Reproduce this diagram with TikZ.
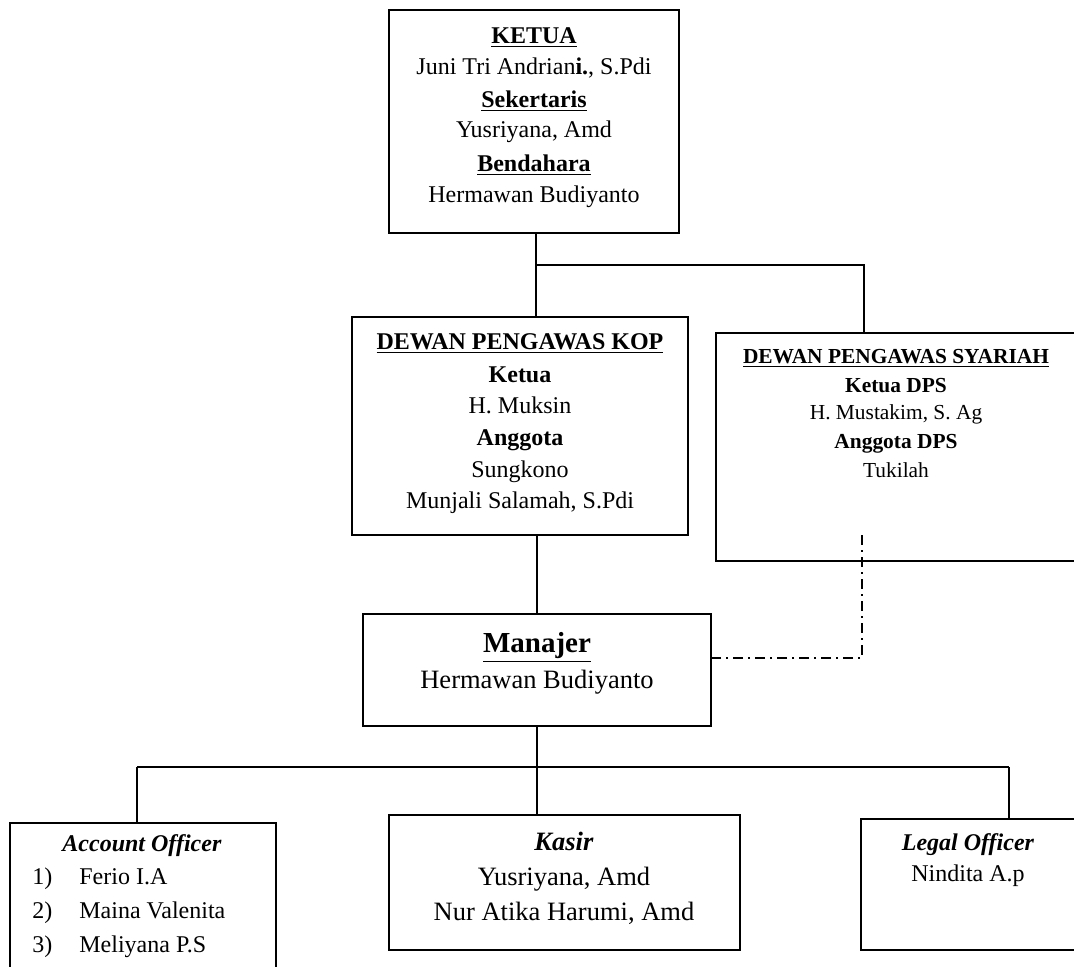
\documentclass[tikz,border=0pt]{standalone}
\usepackage{fontspec}
\setmainfont{Liberation Serif}
\usetikzlibrary{fit}
\begin{document}
\begin{tikzpicture}[x=0.5pt,y=-0.5pt,
  box/.style={draw=black,line width=1pt,inner sep=0pt},
  lbl/.style={anchor=base,inner sep=0pt},
  lblw/.style={anchor=base west,inner sep=0pt},
  ftw/.style={font=\fontsize{12}{14}\selectfont},
  ftm/.style={font=\fontsize{13.25}{15}\selectfont},
  ftb/.style={font=\fontsize{14.5}{17}\selectfont},
  fts/.style={font=\fontsize{10.7}{13}\selectfont},
  conn/.style={draw=black,line width=0.9pt},
  dashdotline/.style={draw=black,line width=0.75pt,dash pattern=on 5pt off 2.5pt on 1pt off 2.5pt}]
\clip (0,0) rectangle (1074,966);
\fill[white] (0,0) rectangle (1074,966);

% boxes
\node[box, fit={(389,10) (679,233)}] (ketua) {};
\node[box, fit={(352,317) (688,535)}] (dpk) {};
\node[box, fit={(716,333) (1076,561)}] (dps) {};
\node[box, fit={(363,614) (711,726)}] (mgr) {};
\node[box, fit={(10,823) (276,980)}] (ao) {};
\node[box, fit={(389,815) (740,950)}] (kasir) {};
\node[box, fit={(861,819) (1075,950)}] (legal) {};

% top box text
\node[lbl,ftw] (k1) at (534,43) {\textbf{\underline{KETUA}}};
\node[lbl,ftw] (k2) at (534,74) {Juni Tri Andrian\textbf{i.}, S.Pdi};
\node[lbl,ftw] (k3) at (534,107) {\textbf{\underline{Sekertaris}}};
\node[lbl,ftw] (k4) at (534,137) {Yusriyana, Amd};
\node[lbl,ftw] (k5) at (534,171) {\textbf{\underline{Bendahara}}};
\node[lbl,ftw] (k6) at (534,202) {Hermawan Budiyanto};

% DPK text
\node[lbl,ftw] (p1) at (520,349) {\textbf{\underline{DEWAN PENGAWAS KOP}}};
\node[lbl,ftw] (p2) at (520,382) {\textbf{Ketua}};
\node[lbl,ftw] (p3) at (520,413) {H. Muksin};
\node[lbl,ftw] (p4) at (520,445) {\textbf{Anggota}};
\node[lbl,ftw] (p5) at (520,477) {Sungkono};
\node[lbl,ftw] (p6) at (520,508) {Munjali Salamah, S.Pdi};

% DPS text
\node[lbl,fts] (s1) at (896,363) {\textbf{\underline{DEWAN PENGAWAS SYARIAH}}};
\node[lbl,fts] (s2) at (896,392) {\textbf{Ketua DPS}};
\node[lbl,fts] (s3) at (896,419) {H. Mustakim, S. Ag};
\node[lbl,fts] (s4) at (896,448) {\textbf{Anggota DPS}};
\node[lbl,fts] (s5) at (896,477) {Tukilah};

% Manajer text
\node[lbl,ftb] (m1) at (537,652) {\textbf{\underline{Manajer}}};
\node[lbl,ftm] (m2) at (537,688) {Hermawan Budiyanto};

% Account officer
\node[lbl,ftw] (a0) at (142,851) {\textbf{\textit{Account Officer}}};
\node[lblw,ftw] (a1n) at (32,884) {1)};
\node[lblw,ftw] (a1) at (79,884) {Ferio I.A};
\node[lblw,ftw] (a2n) at (32,918) {2)};
\node[lblw,ftw] (a2) at (79,918) {Maina Valenita};
\node[lblw,ftw] (a3n) at (32,952) {3)};
\node[lblw,ftw] (a3) at (79,952) {Meliyana P.S};

% Kasir
\node[lbl,ftm] (c1) at (564,850) {\textbf{\textit{Kasir}}};
\node[lbl,ftm] (c2) at (564,885) {Yusriyana, Amd};
\node[lbl,ftm] (c3) at (564,920) {Nur Atika Harumi, Amd};

% Legal officer
\node[lbl,ftw] (l1) at (968,850) {\textbf{\textit{Legal Officer}}};
\node[lbl,ftw] (l2) at (968,881) {Nindita A.p};

% junction coordinates
\coordinate (j1) at (536,265);
\coordinate (j2) at (864,265);
\coordinate (jd) at (537,265);
\coordinate (b0) at (537,767);
\coordinate (bL) at (137,767);
\coordinate (bR) at (1009,767);
\coordinate (dd) at (862,535);
\coordinate (mlink) at (711,658);

% connectors
\draw[conn] (ketua.south -| j1) -- (j1) -- (j2) -- (j2 |- dps.north);
\draw[conn] (j1) -- (j1 |- dpk.north);
\draw[conn] (dpk.south -| mgr.north) -- (mgr.north);
\draw[conn] (mgr.south) -- (b0);
\draw[conn] (bL) -- (bR);
\draw[conn] (bL) -- (bL |- ao.north);
\draw[conn] (b0) -- (b0 |- kasir.north);
\draw[conn] (bR) -- (bR |- legal.north);
\draw[dashdotline] (dd) |- (mlink);
\end{tikzpicture}
\end{document}
